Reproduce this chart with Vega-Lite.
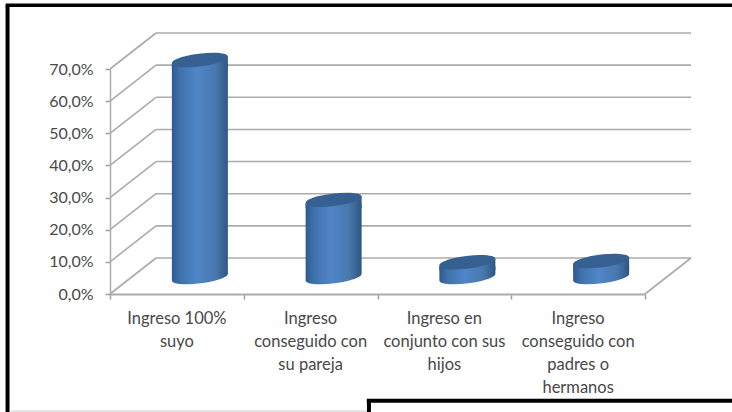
{
"$schema":"https://vega.github.io/schema/vega-lite/v6.json",
"width":535,"height":225,
"padding":{"left":110,"top":69,"right":87,"bottom":118},
"autosize":{"type":"none"},
"background":"white",
"config":{"view":{"stroke":null},"font":"Lato"},
"datasets":{
"ticks":[{"v":0},{"v":10},{"v":20},{"v":30},{"v":40},{"v":50},{"v":60},{"v":70}],
"bars":[
{"categoria":"Ingreso 100% suyo","valor":67.5},
{"categoria":"Ingreso conseguido con su pareja","valor":24},
{"categoria":"Ingreso en conjunto con sus hijos","valor":4.6},
{"categoria":"Ingreso conseguido con padres o hermanos","valor":5}
]},
"resolve":{"scale":{"x":"independent"},"axis":{"x":"independent"}},
"layer":[
{"data":{"name":"ticks"},
 "layer":[
 {"mark":{"type":"rule","color":"#ababab","strokeWidth":1.6,"yOffset":-36,"y2Offset":-36},
  "encoding":{
   "x":{"datum":0.344,"type":"quantitative","scale":{"domain":[0,4],"nice":false},
    "axis":{"orient":"bottom","values":[0,1,2,3,4],"labels":false,"ticks":true,"tickSize":5,"tickColor":"#a0a0a0","tickWidth":1.5,"domainColor":"#ababab","domainWidth":1.8,"grid":false,"title":null}},
   "x2":{"datum":4.344},
   "y":{"field":"v","type":"quantitative","scale":{"domain":[0,70],"nice":false},
    "axis":{"values":[0,10,20,30,40,50,60,70],"tickCount":8,"labelOverlap":false,"labelExpr":"replace(format(datum.value,'.1f'),'.',',')+'%'","labelFont":"Lato","labelFontSize":16,"labelColor":"#484848","labelPadding":12,"tickSize":5,"tickColor":"#a0a0a0","tickWidth":1.5,"domainColor":"#ababab","domainWidth":1.5,"grid":false,"title":null}},
   "y2":{"field":"v"}}},
 {"mark":{"type":"rule","color":"#ababab","strokeWidth":1.6,"y2Offset":-36},
  "encoding":{
   "x":{"datum":0,"type":"quantitative"},
   "x2":{"datum":0.344},
   "y":{"field":"v","type":"quantitative"},
   "y2":{"field":"v"}}},
 {"transform":[{"filter":"datum.v===0"}],
  "mark":{"type":"rule","color":"#ababab","strokeWidth":1.6,"y2Offset":-36},
  "encoding":{
   "x":{"datum":4,"type":"quantitative"},
   "x2":{"datum":4.344},
   "y":{"field":"v","type":"quantitative"},
   "y2":{"field":"v"}}},
 {"transform":[{"filter":"datum.v===0"}],
  "mark":{"type":"rule","color":"black","strokeWidth":4},
  "encoding":{"x":{"datum":-0.766,"type":"quantitative"},"y":{"datum":89.8,"type":"quantitative"},"y2":{"datum":-37}}},
 {"transform":[{"filter":"datum.v===0"}],
  "mark":{"type":"rule","color":"black","strokeWidth":3.5},
  "encoding":{"x":{"datum":-0.78,"type":"quantitative"},"x2":{"datum":4.7},"y":{"datum":89.8,"type":"quantitative"}}},
 {"transform":[{"filter":"datum.v===0"}],
  "mark":{"type":"rule","color":"black","strokeWidth":4},
  "encoding":{"x":{"datum":1.936,"type":"quantitative"},"y":{"datum":-33.2,"type":"quantitative"},"y2":{"datum":-37}}},
 {"transform":[{"filter":"datum.v===0"}],
  "mark":{"type":"rule","color":"black","strokeWidth":4},
  "encoding":{"x":{"datum":1.92,"type":"quantitative"},"x2":{"datum":4.7},"y":{"datum":-33.2,"type":"quantitative"}}},
 {"transform":[{"filter":"datum.v===0"}],
  "mark":{"type":"rule","color":"#cfcfcf","strokeWidth":1},
  "encoding":{"x":{"datum":-0.74,"type":"quantitative"},"x2":{"datum":1.92},"y":{"datum":-36.4,"type":"quantitative"}}}
 ]},
{"data":{"name":"bars"},
 "encoding":{
  "x":{"field":"categoria","type":"nominal","sort":null,
   "scale":{"paddingInner":0,"paddingOuter":0},
   "axis":{"orient":"bottom","labelAngle":0,"labelFont":"Lato","labelFontSize":16.5,"labelColor":"#484848","labelPadding":16,"labelLineHeight":23,"labelLimit":300,"domain":false,"ticks":false,"grid":false,"title":null,"labelBaseline":"top",
    "labelExpr":"{'Ingreso 100% suyo':['Ingreso 100%','suyo'],'Ingreso conseguido con su pareja':['Ingreso','conseguido con','su pareja'],'Ingreso en conjunto con sus hijos':['Ingreso en','conjunto con sus','hijos'],'Ingreso conseguido con padres o hermanos':['Ingreso','conseguido con','padres o','hermanos']}[datum.label]"}}
 },
 "layer":[
 {"mark":{"type":"bar","width":56,"xOffset":23,"yOffset":-13,"y2Offset":-21,
   "fill":{"gradient":"linear","x1":0,"x2":1,"y1":0,"y2":0,"stops":[{"offset":0,"color":"#2f5a8c"},{"offset":0.15,"color":"#3f72ad"},{"offset":0.45,"color":"#5085c8"},{"offset":0.78,"color":"#4878ad"},{"offset":1,"color":"#2f5682"}]}},
  "encoding":{"y":{"field":"valor","type":"quantitative","stack":null},"y2":{"datum":0}}},
 {"mark":{"type":"point","filled":true,"opacity":1,"size":3136,"xOffset":23,"yOffset":-17,
   "shape":"M-1 -0.15 L-1 0.122 A1.008 0.22 -7 1 0 1 -0.122 L1 -0.15 Z",
   "fill":{"gradient":"linear","x1":0,"x2":1,"y1":0,"y2":0,"stops":[{"offset":0,"color":"#2f5a8c"},{"offset":0.15,"color":"#3f72ad"},{"offset":0.45,"color":"#5085c8"},{"offset":0.78,"color":"#4878ad"},{"offset":1,"color":"#2f5682"}]}},
  "encoding":{"y":{"datum":0,"type":"quantitative"}}},
 {"mark":{"type":"point","filled":true,"opacity":1,"size":3136,"xOffset":23,"yOffset":-17,
   "shape":"M-1 0.122 L-1 0.3 L1 0.3 L1 -0.122 Z",
   "fill":{"gradient":"linear","x1":0,"x2":1,"y1":0,"y2":0,"stops":[{"offset":0,"color":"#2f5a8c"},{"offset":0.15,"color":"#3f72ad"},{"offset":0.45,"color":"#5085c8"},{"offset":0.78,"color":"#4878ad"},{"offset":1,"color":"#2f5682"}]}},
  "encoding":{"y":{"field":"valor","type":"quantitative"}}},
 {"mark":{"type":"point","filled":true,"opacity":1,"size":3136,"xOffset":23,"yOffset":-17,"fill":"#376092",
   "shape":"M-1 0.122 A1.008 0.22 -7 1 1 1 -0.122 A1.008 0.22 -7 1 1 -1 0.122 Z"},
  "encoding":{"y":{"field":"valor","type":"quantitative"}}}
 ]}
]
}
